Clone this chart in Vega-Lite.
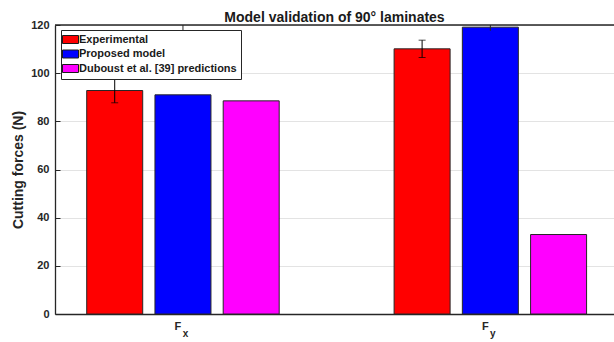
{
  "$schema": "https://vega.github.io/schema/vega-lite/v6.json",
  "autosize": "none",
  "width": 559,
  "height": 289,
  "padding": {"left": 55, "top": 25, "right": 0, "bottom": 28},
  "config": {
    "font": "Liberation Sans",
    "view": {"stroke": null},
    "axis": {"labelFont": "Liberation Sans", "titleFont": "Liberation Sans"}
  },
  "title": {
    "text": "Model validation of 90° laminates",
    "fontSize": 14,
    "fontWeight": "bold",
    "color": "#1a1a1a",
    "frame": "group",
    "anchor": "middle",
    "baseline": "alphabetic",
    "offset": -17
  },
  "datasets": {
    "bars": [
      {"group": "Fx", "series": "Experimental", "x": 0.778, "value": 92.8, "lo": 87.7, "hi": 98.1},
      {"group": "Fx", "series": "Proposed model", "x": 1.0, "value": 91.0},
      {"group": "Fx", "series": "Duboust et al. [39] predictions", "x": 1.222, "value": 88.5},
      {"group": "Fy", "series": "Experimental", "x": 1.778, "value": 110.1, "lo": 106.5, "hi": 113.7},
      {"group": "Fy", "series": "Proposed model", "x": 2.0, "value": 119.1},
      {"group": "Fy", "series": "Duboust et al. [39] predictions", "x": 2.222, "value": 33.0}
    ],
    "labels": [
      {"x": 1, "main": "F", "sub": "x"},
      {"x": 2, "main": "F", "sub": "y"}
    ],
    "frame": [
      {"x": 1},
      {"x": 2}
    ]
  },
  "layer": [
    {
      "data": {"name": "bars"},
      "mark": {"type": "bar", "size": 56, "stroke": "#262626", "strokeWidth": 1},
      "encoding": {
        "x": {
          "field": "x",
          "type": "quantitative",
          "scale": {"domain": [0.6, 2.386], "nice": false, "zero": false},
          "title": null,
          "axis": {
            "values": [1, 2],
            "labels": false,
            "ticks": false,
            "grid": false,
            "domainColor": "#262626",
            "domainWidth": 1.3
          }
        },
        "y": {
          "field": "value",
          "type": "quantitative",
          "scale": {"domain": [0, 120], "nice": false},
          "title": "Cutting forces (N)",
          "axis": {
            "values": [0, 20, 40, 60, 80, 100, 120],
            "grid": true,
            "gridColor": "#e3e3e3",
            "gridWidth": 1,
            "tickSize": -5,
            "tickColor": "#262626",
            "domainColor": "#262626",
            "domainWidth": 1.3,
            "labelFontSize": 11,
            "labelFontWeight": "bold",
            "labelColor": "#262626",
            "labelPadding": 11,
            "titleFontSize": 14,
            "titleFontWeight": "bold",
            "titleColor": "#262626",
            "titlePadding": 5
          }
        },
        "color": {
          "field": "series",
          "type": "nominal",
          "scale": {
            "domain": ["Experimental", "Proposed model", "Duboust et al. [39] predictions"],
            "range": ["#ff0000", "#0000ff", "#ff00ff"]
          },
          "legend": {
            "title": null,
            "orient": "none",
            "legendX": 6,
            "legendY": 5,
            "fillColor": "white",
            "strokeColor": "#262626",
            "padding": 4,
            "symbolType": "M-1.6,-0.8L1.6,-0.8L1.6,0.8L-1.6,0.8Z",
            "symbolSize": 100,
            "symbolStrokeColor": "#1a1a1a",
            "symbolStrokeWidth": 1,
            "symbolOpacity": 1,
            "labelFontSize": 11,
            "labelFontWeight": "bold",
            "labelColor": "#1a1a1a",
            "labelOffset": 3,
            "labelLimit": 300,
            "rowPadding": 1.5
          }
        }
      }
    },
    {
      "data": {"name": "bars"},
      "transform": [{"filter": "isValid(datum.lo)"}],
      "mark": {"type": "errorbar", "ticks": {"size": 7}, "color": "#000000", "thickness": 1},
      "encoding": {
        "x": {"field": "x", "type": "quantitative", "title": null},
        "y": {"field": "lo", "type": "quantitative", "title": "Cutting forces (N)"},
        "y2": {"field": "hi"}
      }
    },
    {
      "data": {"values": [{}]},
      "mark": {"type": "rule", "color": "#262626", "strokeWidth": 1.3},
      "encoding": {
        "y": {"datum": 120, "type": "quantitative", "title": "Cutting forces (N)"}
      }
    },
    {
      "data": {"name": "frame"},
      "mark": {"type": "rule", "color": "#262626", "strokeWidth": 1},
      "encoding": {
        "x": {"field": "x", "type": "quantitative", "title": null},
        "y": {"datum": 120, "type": "quantitative", "title": "Cutting forces (N)"},
        "y2": {"datum": 117.6}
      }
    },
    {
      "data": {"name": "labels"},
      "mark": {"type": "text", "fontSize": 11, "fontWeight": "bold", "color": "#262626", "baseline": "alphabetic", "align": "center", "dx": -5, "dy": 16},
      "encoding": {
        "x": {"field": "x", "type": "quantitative", "title": null},
        "y": {"datum": 0, "type": "quantitative", "title": "Cutting forces (N)"},
        "text": {"field": "main"}
      }
    },
    {
      "data": {"name": "labels"},
      "mark": {"type": "text", "fontSize": 10, "fontWeight": "bold", "color": "#262626", "baseline": "alphabetic", "align": "center", "dx": 2.5, "dy": 23},
      "encoding": {
        "x": {"field": "x", "type": "quantitative", "title": null},
        "y": {"datum": 0, "type": "quantitative", "title": "Cutting forces (N)"},
        "text": {"field": "sub"}
      }
    }
  ]
}
